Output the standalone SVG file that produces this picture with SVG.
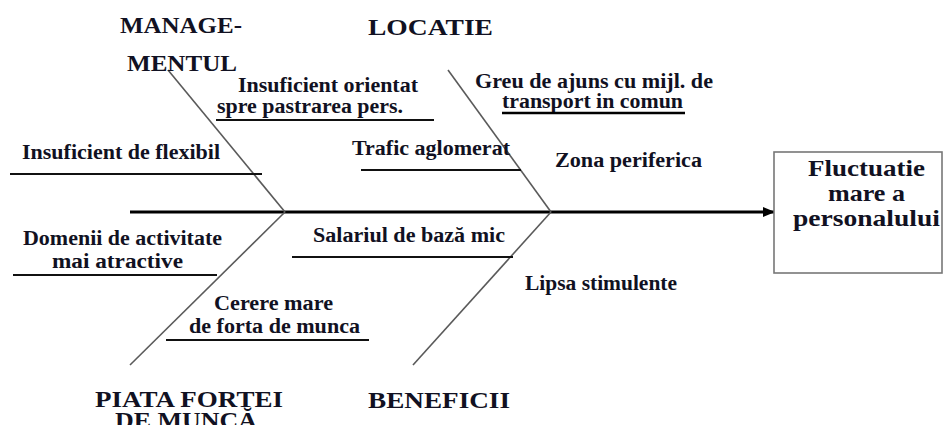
<svg xmlns="http://www.w3.org/2000/svg" width="944" height="425" viewBox="0 0 944 425">
<defs>
<style>
text{font-family:"Liberation Serif","Times New Roman",serif;font-weight:bold;fill:#111122;}
.cat{font-size:24px;}
.lbl{font-size:20px;}
.box{font-size:23px;}
.bone{stroke:#5a5a5a;stroke-width:1.6;fill:none;}
.ul{stroke:#111;stroke-width:1.8;fill:none;}
.spine{stroke:#000;stroke-width:3.2;fill:none;}
</style>
<marker id="arr" markerWidth="12" markerHeight="10" refX="12" refY="5" orient="auto" markerUnits="userSpaceOnUse">
<path d="M0,0 L12,5 L0,10 Z" fill="#000"/>
</marker>
</defs>
<rect width="944" height="425" fill="#fff"/>
<g id="connectors">
<line class="spine" x1="130" y1="212" x2="775" y2="212" marker-end="url(#arr)"/>
<line class="bone" x1="168" y1="70" x2="285" y2="212"/>
<line class="bone" x1="285" y1="212" x2="130" y2="365"/>
<line class="bone" x1="448" y1="70" x2="551" y2="212"/>
<line class="bone" x1="551" y1="212" x2="413" y2="365"/>
</g>
<g id="cat-management">
<text class="cat" x="120" y="33" textLength="122" lengthAdjust="spacingAndGlyphs">MANAGE-</text>
<text class="cat" x="127" y="71" textLength="110" lengthAdjust="spacingAndGlyphs">MENTUL</text>
</g>
<g id="cat-locatie">
<text class="cat" x="368" y="35" textLength="125" lengthAdjust="spacingAndGlyphs">LOCATIE</text>
</g>
<g id="cat-piata">
<text class="cat" x="95" y="407" textLength="188" lengthAdjust="spacingAndGlyphs">PIATA FORTEI</text>
<text class="cat" x="115" y="428" textLength="142" lengthAdjust="spacingAndGlyphs">DE MUNCĂ</text>
</g>
<g id="cat-beneficii">
<text class="cat" x="368" y="408" textLength="142" lengthAdjust="spacingAndGlyphs">BENEFICII</text>
</g>
<g id="cause-flexibil">
<text class="lbl" x="22" y="159" textLength="198" lengthAdjust="spacingAndGlyphs">Insuficient de flexibil</text>
<line class="ul" x1="10" y1="174" x2="262" y2="174"/>
</g>
<g id="cause-orientat">
<text class="lbl" x="238" y="92" textLength="180" lengthAdjust="spacingAndGlyphs">Insuficient orientat</text>
<text class="lbl" x="217" y="113" textLength="186" lengthAdjust="spacingAndGlyphs">spre pastrarea pers.</text>
<line class="ul" x1="216" y1="120" x2="434" y2="120"/>
</g>
<g id="cause-greu">
<text class="lbl" x="475" y="88" textLength="238" lengthAdjust="spacingAndGlyphs">Greu de ajuns cu mijl. de</text>
<text class="lbl" x="502" y="108" textLength="181" lengthAdjust="spacingAndGlyphs">transport in comun</text>
<line x1="502" y1="113" x2="685" y2="113" stroke="#000" stroke-width="2.5"/>
</g>
<g id="cause-trafic">
<text class="lbl" x="352" y="155" textLength="158" lengthAdjust="spacingAndGlyphs">Trafic aglomerat</text>
<line class="ul" x1="361" y1="170" x2="521" y2="170"/>
</g>
<g id="cause-zona">
<text class="lbl" x="555" y="167" textLength="147" lengthAdjust="spacingAndGlyphs">Zona periferica</text>
</g>
<g id="cause-domenii">
<text class="lbl" x="23" y="245" textLength="199" lengthAdjust="spacingAndGlyphs">Domenii de activitate</text>
<text class="lbl" x="52" y="268" textLength="131" lengthAdjust="spacingAndGlyphs">mai atractive</text>
<line class="ul" x1="13" y1="275" x2="217" y2="275"/>
</g>
<g id="cause-salariul">
<text class="lbl" x="313" y="242" textLength="192" lengthAdjust="spacingAndGlyphs">Salariul de bază mic</text>
<line class="ul" x1="292" y1="257" x2="513" y2="257"/>
</g>
<g id="cause-lipsa">
<text class="lbl" x="525" y="290" textLength="152" lengthAdjust="spacingAndGlyphs">Lipsa stimulente</text>
</g>
<g id="cause-cerere">
<text class="lbl" x="214" y="310" textLength="119" lengthAdjust="spacingAndGlyphs">Cerere mare</text>
<text class="lbl" x="189" y="333" textLength="171" lengthAdjust="spacingAndGlyphs">de forta de munca</text>
<line class="ul" x1="166" y1="340" x2="369" y2="340"/>
</g>
<g id="effect">
<rect x="774" y="152" width="168" height="121" fill="#fff" stroke="#777" stroke-width="1.6"/>
<text class="box" x="808" y="176" textLength="117" lengthAdjust="spacingAndGlyphs">Fluctuatie</text>
<text class="box" x="828" y="201" textLength="77" lengthAdjust="spacingAndGlyphs">mare a</text>
<text class="box" x="793" y="226" textLength="147" lengthAdjust="spacingAndGlyphs">personalului</text>
</g>
</svg>
